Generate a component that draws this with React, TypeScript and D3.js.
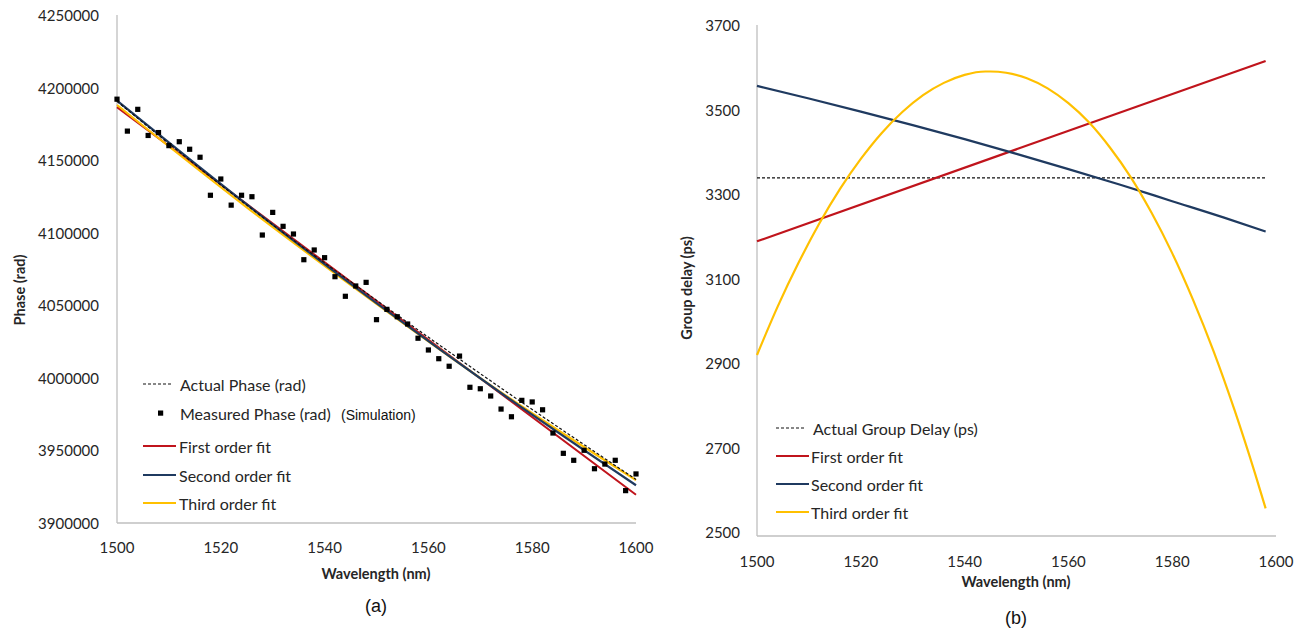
import React from "react";
import * as d3 from "d3";

// ---------- Data: (a) Phase ----------
const measuredWavelengths = [
  1500, 1502, 1504, 1506, 1508, 1510, 1512, 1514, 1516, 1518,
  1520, 1522, 1524, 1526, 1528, 1530, 1532, 1534, 1536, 1538,
  1540, 1542, 1544, 1546, 1548, 1550, 1552, 1554, 1556, 1558,
  1560, 1562, 1564, 1566, 1568, 1570, 1572, 1574, 1576, 1578,
  1580, 1582, 1584, 1586, 1588, 1590, 1592, 1594, 1596, 1598, 1600,
];
const measuredPhase = [
  4192000, 4170000, 4185000, 4167000, 4169000, 4160000, 4162700, 4157500, 4152000, 4125800,
  4137000, 4119000, 4125800, 4124800, 4098400, 4114000, 4104400, 4099100, 4081400, 4088100,
  4082800, 4069700, 4056200, 4063300, 4065800, 4040100, 4047200, 4042100, 4037100, 4027300,
  4019200, 4013200, 4008000, 4015000, 3993500, 3992500, 3987500, 3978500, 3973200, 3984500,
  3983400, 3978000, 3962000, 3948000, 3943200, 3950100, 3937400, 3940600, 3943200, 3922300, 3933800,
];
const phaseFitWavelengths = [1500, 1525, 1550, 1575, 1600];
const actualPhase = [4190500, 4119000, 4053500, 3990500, 3930000];
const firstOrderPhase = [4186500, 4119750, 4053000, 3986250, 3919500];
const secondOrderPhase = [4191000, 4119500, 4051500, 3987000, 3926000];
const thirdOrderPhase = [4188000, 4117500, 4051000, 3987500, 3929500];
const phaseTicks = [3900000, 3950000, 4000000, 4050000, 4100000, 4150000, 4200000, 4250000];
const wavelengthTicks = [1500, 1520, 1540, 1560, 1580, 1600];

// ---------- Data: (b) Group delay ----------
const gdWavelengths = [1500, 1598];
const actualGroupDelay = [3338, 3338];
const firstOrderGD = [3188, 3615];
const secondOrderWavelengths = [1500, 1510, 1520, 1530, 1540, 1550, 1560, 1570, 1580, 1590, 1598];
const secondOrderGD = [3556, 3526, 3495, 3463, 3430, 3395, 3359, 3322, 3283, 3244, 3211];
const thirdOrderWavelengths = [
  1500, 1504, 1508, 1512, 1516, 1520, 1524, 1528, 1532, 1536, 1540, 1544, 1545,
  1548, 1552, 1556, 1560, 1564, 1568, 1572, 1576, 1580, 1584, 1588, 1592, 1596, 1598,
];
const thirdOrderGD = [
  2919, 3034, 3137, 3230, 3312, 3383, 3444, 3494, 3534, 3563, 3582, 3590, 3590,
  3587, 3574, 3550, 3515, 3469, 3410, 3340, 3256, 3160, 3050, 2927, 2789, 2637, 2556,
];
const gdTicks = [2500, 2700, 2900, 3100, 3300, 3500, 3700];

const RED = "#C0141C";
const BLUE = "#1F3A60";
const YELLOW = "#FFC000";
const AXIS = "#BFBFBF";
const TEXT = "#262626";
const FONT = "Lato, 'Open Sans', sans-serif";
const ARIAL = "'Liberation Sans', Arial, sans-serif";

function pts(xs: number[], ys: number[]) {
  return xs.map((x, i) => [x, ys[i]] as [number, number]);
}

export default function App() {
  const xL = d3.scaleLinear().domain([1500, 1600]).range([117, 636]);
  const yL = d3.scaleLinear().domain([3900000, 4250000]).range([523, 15]);
  const xR = d3.scaleLinear().domain([1500, 1600]).range([757, 1276]);
  const yR = d3.scaleLinear().domain([2500, 3700]).range([532, 25]);
  const rightBase = 536;

  const lineL = d3
    .line<[number, number]>()
    .x((d) => xL(d[0]))
    .y((d) => yL(d[1]))
    .curve(d3.curveMonotoneX);
  const lineR = d3
    .line<[number, number]>()
    .x((d) => xR(d[0]))
    .y((d) => yR(d[1]))
    .curve(d3.curveMonotoneX);

  const legendL = [
    { label: "First order fit", color: RED, y: 446 },
    { label: "Second order fit", color: BLUE, y: 475 },
    { label: "Third order fit", color: YELLOW, y: 503 },
  ];
  const legendR = [
    { label: "First order fit", color: RED, y: 456 },
    { label: "Second order fit", color: BLUE, y: 484 },
    { label: "Third order fit", color: YELLOW, y: 512 },
  ];

  return (
    <svg
      width={1307}
      height={630}
      style={{ position: "absolute", left: 0, top: 0, background: "#fff" }}
      fontFamily={FONT}
    >
      <rect width={1307} height={630} fill="#fff" />

      {/* ---------------- (a) ---------------- */}
      <g>
        <line x1={xL(1500)} x2={xL(1500)} y1={yL(4250000)} y2={yL(3900000)} stroke={AXIS} strokeWidth={1.3} />
        <line x1={xL(1500)} x2={xL(1600)} y1={yL(3900000)} y2={yL(3900000)} stroke={AXIS} strokeWidth={1.3} />
        {phaseTicks.map((t) => (
          <text key={t} x={99} y={yL(t)} textAnchor="end" dominantBaseline="central" fontSize={15} fill={TEXT}>
            {t}
          </text>
        ))}
        {wavelengthTicks.map((t) => (
          <text key={t} x={xL(t)} y={547} textAnchor="middle" dominantBaseline="central" fontSize={15} fill={TEXT}>
            {t}
          </text>
        ))}
        <text x={376} y={573} textAnchor="middle" dominantBaseline="central" fontSize={14.5} fontWeight="bold" fill={TEXT}>
          Wavelength (nm)
        </text>
        <text
          transform={`translate(19,290) rotate(-90)`}
          textAnchor="middle"
          dominantBaseline="central"
          fontSize={14.5}
          fontWeight="bold"
          fill={TEXT}
        >
          Phase (rad)
        </text>
        <text x={376} y={606} textAnchor="middle" dominantBaseline="central" fontSize={18} fontFamily={ARIAL} fill="#111">
          (a)
        </text>

        <path d={lineL(pts(phaseFitWavelengths, firstOrderPhase)) || ""} fill="none" stroke={RED} strokeWidth={2} />
        <path d={lineL(pts(phaseFitWavelengths, thirdOrderPhase)) || ""} fill="none" stroke={YELLOW} strokeWidth={2.2} />
        <path d={lineL(pts(phaseFitWavelengths, secondOrderPhase)) || ""} fill="none" stroke={BLUE} strokeWidth={2.2} />
        <path d={lineL(pts(phaseFitWavelengths, actualPhase)) || ""} fill="none" stroke="#111" strokeWidth={1.2} strokeDasharray="3,2" />
        {measuredWavelengths.map((w, i) => (
          <rect key={i} x={xL(w) - 2.6} y={yL(measuredPhase[i]) - 2.6} width={5.2} height={5.2} fill="#000" />
        ))}

        {/* legend */}
        <line x1={143} x2={173} y1={384} y2={384} stroke="#111" strokeWidth={1.2} strokeDasharray="3,2" />
        <text x={180} y={384} dominantBaseline="central" fontSize={16} fill={TEXT}>Actual Phase (rad)</text>
        <rect x={158} y={410.5} width={5.2} height={5.2} fill="#000" />
        <text x={180} y={413} dominantBaseline="central" fontSize={16} fill={TEXT}>Measured Phase (rad)</text>
        <text x={341} y={415} dominantBaseline="central" fontSize={14} fontFamily={ARIAL} fill="#111">
          (Simulation)
        </text>
        {legendL.map((l) => (
          <g key={l.label}>
            <line x1={143} x2={176} y1={l.y} y2={l.y} stroke={l.color} strokeWidth={2} />
            <text x={179} y={l.y} dominantBaseline="central" fontSize={16} fill={TEXT}>{l.label}</text>
          </g>
        ))}
      </g>

      {/* ---------------- (b) ---------------- */}
      <g>
        <line x1={xR(1500)} x2={xR(1500)} y1={yR(3700)} y2={rightBase} stroke={AXIS} strokeWidth={1.3} />
        <line x1={xR(1500)} x2={xR(1600)} y1={rightBase} y2={rightBase} stroke={AXIS} strokeWidth={1.3} />
        {gdTicks.map((t) => (
          <text key={t} x={740} y={yR(t)} textAnchor="end" dominantBaseline="central" fontSize={15} fill={TEXT}>
            {t}
          </text>
        ))}
        {wavelengthTicks.map((t) => (
          <text key={t} x={xR(t)} y={561} textAnchor="middle" dominantBaseline="central" fontSize={15} fill={TEXT}>
            {t}
          </text>
        ))}
        <text x={1016} y={581} textAnchor="middle" dominantBaseline="central" fontSize={14.5} fontWeight="bold" fill={TEXT}>
          Wavelength (nm)
        </text>
        <text
          transform={`translate(686,288) rotate(-90)`}
          textAnchor="middle"
          dominantBaseline="central"
          fontSize={14.5}
          fontWeight="bold"
          fill={TEXT}
        >
          Group delay (ps)
        </text>
        <text x={1016} y={618} textAnchor="middle" dominantBaseline="central" fontSize={18} fontFamily={ARIAL} fill="#111">
          (b)
        </text>

        <path d={lineR(pts(gdWavelengths, actualGroupDelay)) || ""} fill="none" stroke="#111" strokeWidth={1.2} strokeDasharray="3,2" />
        <path d={lineR(pts(gdWavelengths, firstOrderGD)) || ""} fill="none" stroke={RED} strokeWidth={2.2} />
        <path d={lineR(pts(secondOrderWavelengths, secondOrderGD)) || ""} fill="none" stroke={BLUE} strokeWidth={2.2} />
        <path d={lineR(pts(thirdOrderWavelengths, thirdOrderGD)) || ""} fill="none" stroke={YELLOW} strokeWidth={2.2} />

        {/* legend */}
        <line x1={776} x2={806} y1={428} y2={428} stroke="#111" strokeWidth={1.2} strokeDasharray="3,2" />
        <text x={813} y={428} dominantBaseline="central" fontSize={16} fill={TEXT}>Actual Group Delay (ps)</text>
        {legendR.map((l) => (
          <g key={l.label}>
            <line x1={776} x2={809} y1={l.y} y2={l.y} stroke={l.color} strokeWidth={2} />
            <text x={811} y={l.y} dominantBaseline="central" fontSize={16} fill={TEXT}>{l.label}</text>
          </g>
        ))}
      </g>
    </svg>
  );
}
